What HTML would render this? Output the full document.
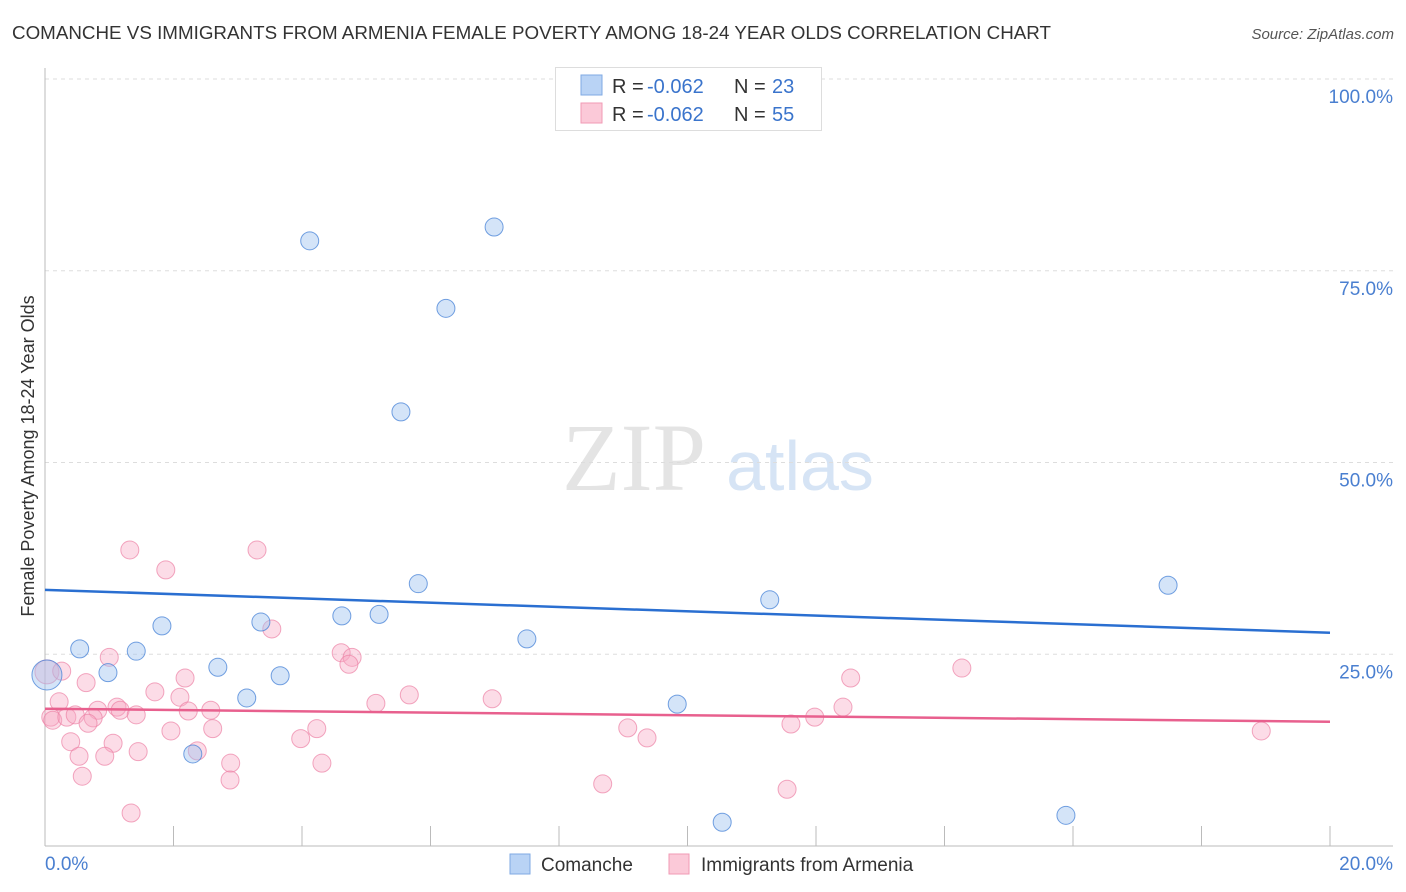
<!DOCTYPE html>
<html><head><meta charset="utf-8"><style>
body{margin:0;background:#fff;width:1406px;height:892px;overflow:hidden;font-family:"Liberation Sans",sans-serif;}
svg{position:absolute;left:0;top:0}
</style></head><body>
<svg id="c" width="1406" height="892">
<text x="12" y="39" font-size="18" fill="#333" textLength="1039" lengthAdjust="spacingAndGlyphs">COMANCHE VS IMMIGRANTS FROM ARMENIA FEMALE POVERTY AMONG 18-24 YEAR OLDS CORRELATION CHART</text>
<text x="1394" y="39" font-size="15" fill="#555" font-style="italic" text-anchor="end">Source: ZipAtlas.com</text>
<text transform="translate(34,456) rotate(-90)" font-size="18" fill="#333" text-anchor="middle">Female Poverty Among 18-24 Year Olds</text>
<g>
<text x="634" y="490" font-size="96" fill="#e4e4e4" font-family="Liberation Serif,serif" text-anchor="middle">ZIP</text>
<text x="800" y="490" font-size="70" fill="#d6e4f5" text-anchor="middle">atlas</text>
</g>
<g id="grid"></g><g id="marks"></g>
<g>
<rect x="555.5" y="67.5" width="266" height="63" fill="#fff" stroke="#ddd"/>
<rect x="581" y="75" width="21" height="20" fill="#b9d3f5" stroke="#7fa9e3"/>
<rect x="581" y="103" width="21" height="20" fill="#fbc9d8" stroke="#f09ab5"/>
<text x="612" y="93" font-size="20" fill="#333">R =</text>
<text x="647" y="93" font-size="20" fill="#3a74cc">-0.062</text>
<text x="734" y="93" font-size="20" fill="#333">N =</text>
<text x="772" y="93" font-size="20" fill="#3a74cc">23</text>
<text x="612" y="121" font-size="20" fill="#333">R =</text>
<text x="647" y="121" font-size="20" fill="#3a74cc">-0.062</text>
<text x="734" y="121" font-size="20" fill="#333">N =</text>
<text x="772" y="121" font-size="20" fill="#3a74cc">55</text>
</g>
<g>
<rect x="510" y="854" width="20" height="20" fill="#b9d3f5" stroke="#7fa9e3"/>
<text x="541" y="871" font-size="19" fill="#333">Comanche</text>
<rect x="669" y="854" width="20" height="20" fill="#fbc9d8" stroke="#f09ab5"/>
<text x="701" y="871" font-size="19" fill="#333">Immigrants from Armenia</text>
</g>
<text x="45" y="870" font-size="19" fill="#4a7fd0">0.0%</text>
<text x="1393" y="870" font-size="19" fill="#4a7fd0" text-anchor="end">20.0%</text>
</svg>
<script>
const yTicks=[25,50,75,100];
const yTickLabels=["25.0%","50.0%","75.0%","100.0%"];
const blueX=[0.03,0.54,0.98,1.42,1.82,2.69,3.14,3.36,3.66,2.30,4.12,4.62,5.20,5.54,5.81,6.24,6.99,7.50,9.84,10.54,11.28,15.89,17.48];
const blueY=[22.3,25.7,22.6,25.4,28.7,23.3,19.3,29.2,22.2,12.0,78.9,30.0,30.2,56.6,34.2,70.1,80.7,27.0,18.5,3.1,32.1,4.0,34.0];
const pinkX=[0.03,1.32,1.88,3.30,3.53,1.0,0.26,0.64,1.71,2.18,2.10,0.22,0.09,0.12,0.34,0.47,0.82,1.12,1.17,1.42,0.75,0.67,2.23,2.58,1.96,2.61,0.40,1.06,1.45,0.53,0.93,0.58,2.37,2.89,2.88,1.34,3.98,4.23,4.31,4.61,4.78,4.73,5.15,5.67,6.96,9.07,9.37,8.68,11.61,11.98,12.42,12.54,11.55,14.27,18.93];
const pinkY=[22.7,38.6,36.0,38.6,28.3,24.6,22.8,21.3,20.1,21.9,19.4,18.8,16.8,16.4,16.8,17.1,17.7,18.1,17.7,17.1,16.7,16.0,17.6,17.7,15.0,15.3,13.6,13.4,12.3,11.7,11.7,9.1,12.4,10.8,8.6,4.3,14.0,15.3,10.8,25.2,24.6,23.7,18.6,19.7,19.2,15.4,14.1,8.1,15.9,16.8,18.1,21.9,7.4,23.2,15.0];
const blueTrend=[33.4,27.8];
const pinkTrend=[17.9,16.2];
const NS="http://www.w3.org/2000/svg";
const sx=v=>45+v/20*1285, sy=v=>846-v/100*767;
function mk(p,t,a){const e=document.createElementNS(NS,t);for(const k in a)e.setAttribute(k,a[k]);p.appendChild(e);return e;}
const g=document.getElementById('grid'),m=document.getElementById('marks');
yTicks.forEach((t,i)=>{
 const l=mk(g,'line',{x1:45,x2:1393,y1:sy(t),y2:sy(t),stroke:'#ddd','stroke-dasharray':'4,4'});
 
 
 const tx=mk(g,'text',{x:1393,y:sy(t)+24,'font-size':19,fill:'#4a7fd0','text-anchor':'end'});
 tx.textContent=yTickLabels[i];
 
 
});
const ax=mk(g,'line',{x1:45,x2:45,y1:68,y2:846,stroke:'#bbb'});


const bx=mk(g,'line',{x1:45,x2:1393,y1:846,y2:846,stroke:'#bbb'});


for(let k=1;k<=10;k++){const t=mk(g,'line',{x1:sx(k*2),x2:sx(k*2),y1:826,y2:846,stroke:'#bbb'});
 
 }
pinkX.forEach((x,i)=>{const c=mk(m,'circle',{cx:sx(x),cy:sy(pinkY[i]),r:i==0?12:9,fill:'rgba(247,168,194,0.4)',stroke:'rgba(236,130,165,0.7)'});
 
 });
blueX.forEach((x,i)=>{const c=mk(m,'circle',{cx:sx(x),cy:sy(blueY[i]),r:i==0?15:9,fill:'rgba(160,195,240,0.45)',stroke:'rgba(70,130,215,0.75)'});
 
 });
const bl=mk(m,'line',{x1:sx(0),x2:sx(20),y1:sy(blueTrend[0]),y2:sy(blueTrend[1]),stroke:'#2a6fd1','stroke-width':2.5});


const pl=mk(m,'line',{x1:sx(0),x2:sx(20),y1:sy(pinkTrend[0]),y2:sy(pinkTrend[1]),stroke:'#e8608e','stroke-width':2.5});


</script>
</body></html>
